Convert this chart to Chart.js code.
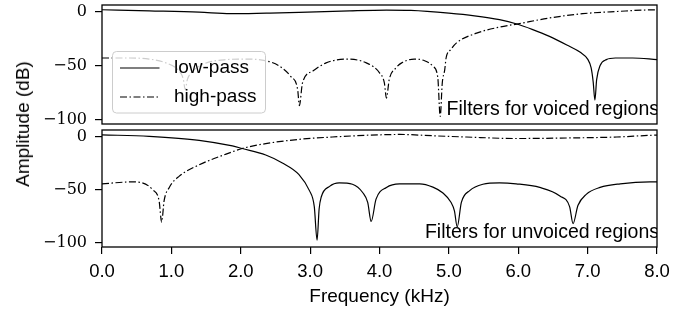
<!DOCTYPE html>
<html>
<head>
<meta charset="utf-8">
<script src="https://cdn.jsdelivr.net/npm/chart.js@4"></script>
<style>
  html, body { margin: 0; padding: 0; background: #fff; }
  #wrap { position: relative; width: 694px; height: 311px; overflow: hidden; }
  #wrap canvas { position: absolute; left: 0; }
  #ylabel {
    position: absolute; left: 23px; top: 124px;
    transform: translate(-50%, -50%) rotate(-90deg);
    font: 19px 'Liberation Sans', Arial, sans-serif; color: #000; white-space: nowrap;
  }
</style>
</head>
<body>
<div id="wrap">
  <canvas id="chart-voiced" width="694" height="130" style="top:0;width:694px;height:130px"></canvas>
  <canvas id="chart-unvoiced" width="694" height="186" style="top:125px;width:694px;height:186px"></canvas>
  <div id="ylabel">Amplitude (dB)</div>
</div>
<script>
// ── Data (kHz / dB) ─────────────────────────────────────────
const xTicks = [0, 1, 2, 3, 4, 5, 6, 7, 8];
const yTicks = [-100, -50, 0];

// voiced regions, low-pass
const fVoicedLow = [0, 0.68, 1.4, 1.85, 2.37, 2.84, 3.57, 4.1, 4.45, 5.0, 5.37, 5.73, 5.98, 6.2, 6.45, 6.7, 6.9, 7.0, 7.05, 7.08, 7.105, 7.13, 7.18, 7.27, 7.4, 7.65, 8.0];
const dbVoicedLow = [1.6, 0.6, -0.6, -2, -1.5, -0.9, 0.6, 1.3, 1.0, -1.5, -4, -7.6, -11.6, -16.5, -23, -31, -38, -44, -52, -65, -82, -63, -50, -44.5, -43, -43, -44.5];

// voiced regions, high-pass
const fVoicedHigh = [0, 0.4, 0.68, 0.92, 1.11, 1.17, 1.2, 1.23, 1.28, 1.45, 1.79, 2.05, 2.35, 2.56, 2.72, 2.82, 2.845, 2.89, 3.04, 3.23, 3.52, 3.81, 4.0, 4.07, 4.1, 4.14, 4.24, 4.32, 4.5, 4.65, 4.77, 4.84, 4.875, 4.905, 4.94, 4.96, 5.03, 5.11, 5.4, 5.73, 5.98, 6.45, 6.93, 7.42, 7.94, 8.0];
const dbVoicedHigh = [-43, -43, -44, -47.5, -55, -62, -72, -63, -57, -49, -44.5, -44, -45.4, -50.6, -60, -72, -87, -66, -55, -47.5, -44, -47.5, -56.7, -66, -80, -63, -52, -47.5, -44, -45.5, -50.6, -61, -97, -66, -54, -43, -35, -29, -20, -14.4, -11.6, -6, -2, 0, 1.5, 1.5];

// unvoiced regions, low-pass
const fUnvoicedLow = [0, 0.68, 1.4, 1.88, 2.02, 2.36, 2.6, 2.84, 2.99, 3.06, 3.1, 3.13, 3.16, 3.28, 3.42, 3.61, 3.76, 3.83, 3.88, 3.95, 4.1, 4.29, 4.58, 4.77, 4.91, 5.03, 5.08, 5.12, 5.18, 5.3, 5.49, 5.73, 5.97, 6.31, 6.6, 6.74, 6.79, 6.86, 6.98, 7.18, 7.47, 7.9, 8.0];
const dbUnvoicedLow = [1.5, 0, -3.7, -9, -11.4, -17.5, -25, -36, -51, -66, -97.5, -68, -57, -47, -43.7, -45, -53, -62, -80, -59, -48, -44.6, -44.6, -47.7, -53, -62, -70, -85, -62, -51, -45, -43.7, -44.6, -48, -56, -66, -82, -65, -54.5, -48, -44.6, -42.8, -42.8];

// unvoiced regions, high-pass
const fUnvoicedHigh = [0, 0.43, 0.58, 0.727, 0.823, 0.86, 0.895, 0.97, 1.11, 1.4, 1.88, 2.02, 2.36, 2.84, 3.32, 3.8, 4.29, 4.8, 5.25, 5.97, 6.7, 7.42, 7.9, 8.0];
const dbUnvoicedHigh = [-44.6, -42.8, -43.7, -50, -60.6, -80.6, -60.6, -48, -37.6, -26.8, -14.5, -11.4, -6.8, -2.8, -0.6, 1, 1.8, 0.5, -0.6, -2, -1.5, -0.6, 1, 1.2];

// ── Shared styles ───────────────────────────────────────────
const SANS = "'Liberation Sans', Arial, sans-serif";
const SERIF = "'DejaVu Serif', serif";
const DASHDOT = [7, 2.5, 1.5, 2.5];

function toPoints(fs, dbs) {
    return fs.map((f, i) => ({ x: f, y: dbs[i] }));
}

function lineDataset(label, fs, dbs, dash) {
    return {
        label: label,
        data: toPoints(fs, dbs),
        borderColor: '#000',
        borderWidth: 1.2,
        borderDash: dash,
        pointRadius: 0,
        fill: false,
        cubicInterpolationMode: 'monotone',
    };
}

function yScale() {
    return {
        type: 'linear',
        min: -104,
        max: 6,
        afterBuildTicks: s => { s.ticks = yTicks.map(v => ({ value: v })); },
        afterFit: s => { s.width = 102; s.paddingTop = 0; s.paddingBottom = 0; },
        border: { display: false },
        grid: { drawOnChartArea: false, drawTicks: true, tickLength: 7, color: '#000', lineWidth: 1.2 },
        ticks: {
            color: '#000',
            padding: 8,
            font: { family: SERIF, size: 16 },
            callback: v => (v < 0 ? '\u2212' + Math.abs(v) : String(v)),
        },
    };
}

// frame round the axes + caption in the lower right corner
const framePlugin = {
    id: 'frame',
    afterDatasetsDraw(chart, args, opts) {
        const a = chart.chartArea;
        const ctx = chart.ctx;
        ctx.save();
        ctx.beginPath();
        ctx.rect(a.left, a.top, a.right - a.left, a.bottom - a.top);
        ctx.clip();
        ctx.fillStyle = '#000';
        ctx.font = '19.5px ' + SANS;
        ctx.textAlign = 'right';
        ctx.textBaseline = 'alphabetic';
        ctx.fillText(opts.caption, a.right + 2, a.bottom - 9);
        ctx.restore();

        ctx.save();
        ctx.strokeStyle = '#000';
        ctx.lineWidth = 1.3;
        ctx.strokeRect(a.left, a.top, a.right - a.left, a.bottom - a.top);
        ctx.restore();
    },
};

// matplotlib-like legend box inside the top axes
const boxLegend = {
    id: 'boxLegend',
    afterDraw(chart, args, opts) {
        if (!opts.show) return;
        const a = chart.chartArea;
        const ctx = chart.ctx;
        const x = a.left + 10.5, y = a.top + 46.5, w = 153, h = 61.5, r = 4;
        ctx.save();
        ctx.beginPath();
        ctx.roundRect(x, y, w, h, r);
        ctx.fillStyle = 'rgba(255,255,255,0.8)';
        ctx.fill();
        ctx.strokeStyle = '#cccccc';
        ctx.lineWidth = 1;
        ctx.stroke();
        chart.data.datasets.forEach((ds, i) => {
            const cy = y + 16.5 + i * 29;
            ctx.beginPath();
            ctx.setLineDash(ds.borderDash || []);
            ctx.strokeStyle = '#000';
            ctx.lineWidth = 1.2;
            ctx.moveTo(x + 7.5, cy);
            ctx.lineTo(x + 47, cy);
            ctx.stroke();
            ctx.setLineDash([]);
            ctx.fillStyle = '#000';
            ctx.font = '19px ' + SANS;
            ctx.textAlign = 'left';
            ctx.textBaseline = 'middle';
            ctx.fillText(ds.label, x + 61.5, cy);
        });
        ctx.restore();
    },
};

Chart.defaults.animation = false;
Chart.defaults.responsive = false;
Chart.defaults.plugins.legend.display = false;
Chart.defaults.plugins.tooltip.enabled = false;

new Chart(document.getElementById('chart-voiced'), {
    type: 'line',
    data: {
        datasets: [
            lineDataset('low-pass', fVoicedLow, dbVoicedLow, []),
            lineDataset('high-pass', fVoicedHigh, dbVoicedHigh, DASHDOT),
        ],
    },
    options: {
        layout: { padding: { top: 5, right: 37, bottom: 6, left: 0 } },
        scales: {
            x: { type: 'linear', min: 0, max: 8, display: false },
            y: yScale(),
        },
        plugins: {
            frame: { caption: 'Filters for voiced regions' },
            boxLegend: { show: true },
        },
    },
    plugins: [framePlugin, boxLegend],
});

new Chart(document.getElementById('chart-unvoiced'), {
    type: 'line',
    data: {
        datasets: [
            lineDataset('low-pass', fUnvoicedLow, dbUnvoicedLow, []),
            lineDataset('high-pass', fUnvoicedHigh, dbUnvoicedHigh, DASHDOT),
        ],
    },
    options: {
        layout: { padding: { top: 5, right: 37, bottom: 0, left: 0 } },
        scales: {
            x: {
                type: 'linear',
                min: 0,
                max: 8,
                afterBuildTicks: s => { s.ticks = xTicks.map(v => ({ value: v })); },
                afterFit: s => { s.height = 64; s.paddingLeft = 0; s.paddingRight = 0; },
                border: { display: false },
                grid: { drawOnChartArea: false, drawTicks: true, tickLength: 7, color: '#000', lineWidth: 1.2 },
                ticks: {
                    color: '#000',
                    padding: 7,
                    maxRotation: 0,
                    font: { family: SANS, size: 18.5 },
                    callback: v => v.toFixed(1),
                },
                title: {
                    display: true,
                    text: 'Frequency (kHz)',
                    color: '#000',
                    font: { family: SANS, size: 19 },
                    padding: { top: 0, bottom: 3 },
                },
            },
            y: yScale(),
        },
        plugins: {
            frame: { caption: 'Filters for unvoiced regions' },
            boxLegend: { show: false },
        },
    },
    plugins: [framePlugin, boxLegend],
});
</script>
</body>
</html>
